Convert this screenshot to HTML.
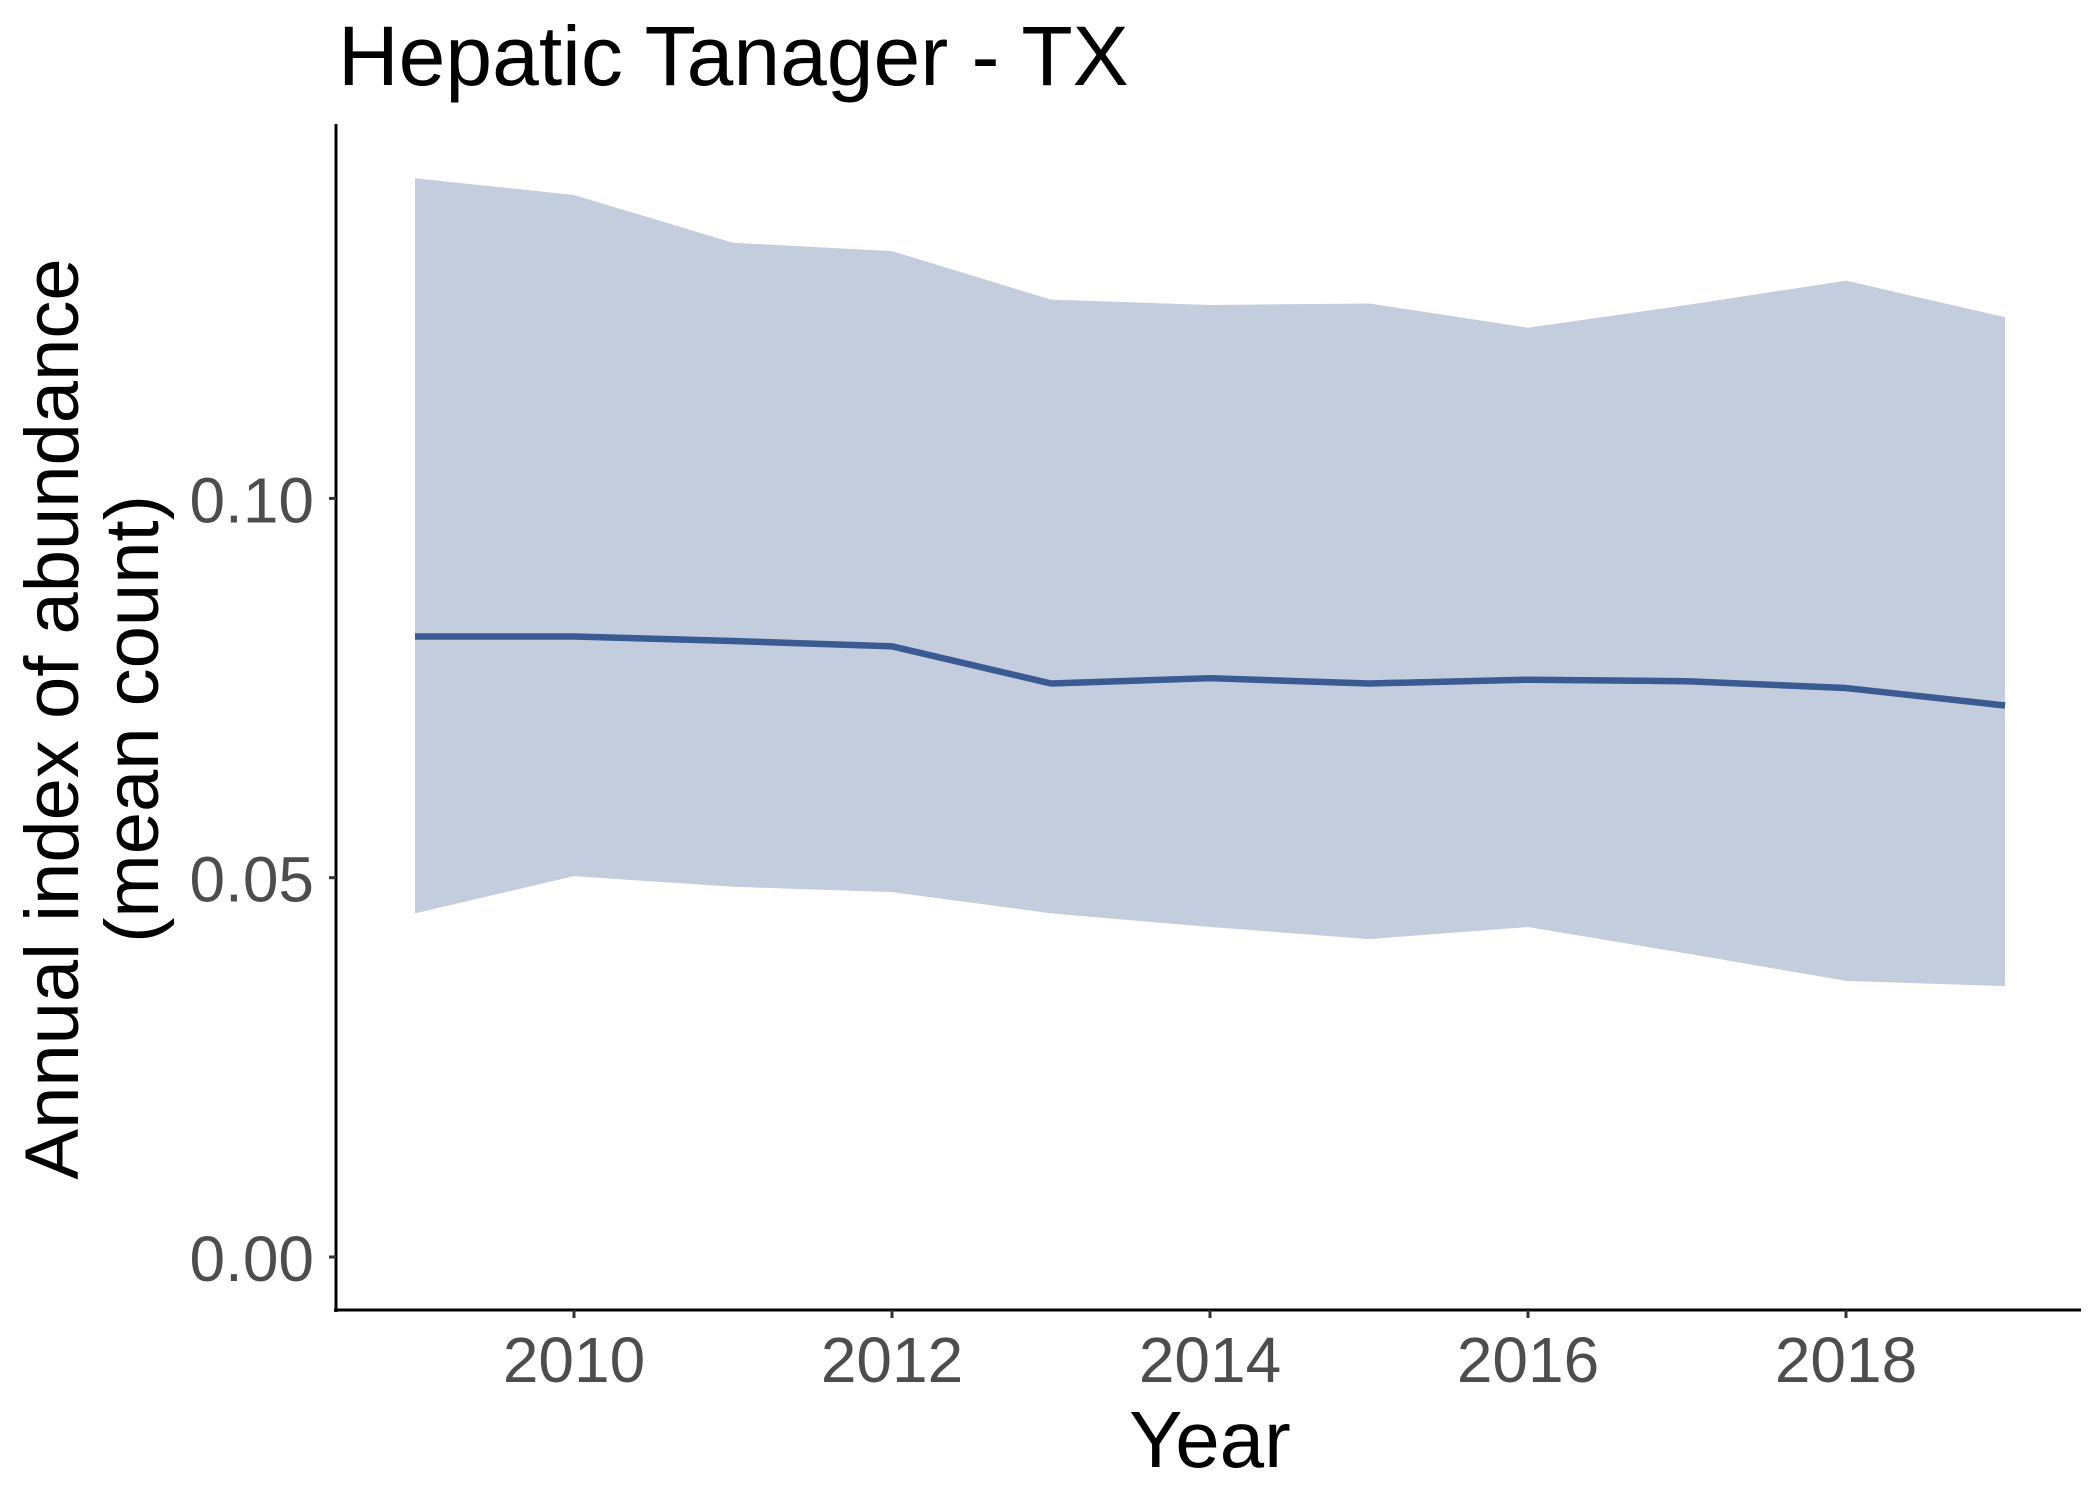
<!DOCTYPE html>
<html><head><meta charset="utf-8"><style>
html,body{margin:0;padding:0;background:#fff;}
svg{display:block;font-family:"Liberation Sans",Arial,sans-serif;}
</style></head><body>
<svg id="chart" width="2100" height="1500" viewBox="0 0 2100 1500">
<text x="338" y="85" font-size="84" fill="#000">Hepatic Tanager - TX</text>
<g id="plot"></g>
<line x1="336" y1="124" x2="336" y2="1312" stroke="#000" stroke-width="3"/>
<line x1="334" y1="1310" x2="2081" y2="1310" stroke="#000" stroke-width="3"/>
<g id="yticks"></g>
<g id="xticks"></g>
<text x="1210" y="1467" font-size="80" text-anchor="middle" fill="#000">Year</text>
<g transform="translate(0,719) rotate(-90)">
<text x="0" y="78" font-size="76" text-anchor="middle" fill="#000">Annual index of abundance</text>
<text x="0" y="158" font-size="76" text-anchor="middle" fill="#000">(mean count)</text>
</g>
</svg>
<script>
const years=[2009,2010,2011,2012,2013,2014,2015,2016,2017,2018,2019];
const upper=[0.1422,0.1400,0.1337,0.1326,0.1262,0.1255,0.1257,0.1225,0.1255,0.1287,0.1239];
const lower=[0.0453,0.0502,0.0488,0.0481,0.0453,0.0435,0.0419,0.0435,0.0400,0.0364,0.0357];
const index=[0.0818,0.0818,0.0812,0.0805,0.0756,0.0763,0.0756,0.0761,0.0759,0.0750,0.0727];
const yTicks=[0,0.05,0.10];
const yTickLabels=["0.00","0.05","0.10"];
const xTicks=[2010,2012,2014,2016,2018];
const NS="http://www.w3.org/2000/svg";
function xs(v){return 415+(v-2009)*159;}
function ys(v){return 1257-v*7586;}
function mk(tag,attrs,parent){const e=document.createElementNS(NS,tag);for(const k in attrs)e.setAttribute(k,attrs[k]);parent.appendChild(e);return e;}
const plot=document.getElementById('plot');
let d=years.map((y,i)=>(i?'L':'M')+xs(y)+','+ys(upper[i])).join(' ');
for(let i=years.length-1;i>=0;i--)d+=' L'+xs(years[i])+','+ys(lower[i]);
const rib=mk('path',{d:d+' Z',fill:'#c4cddd'},plot);


const ln=mk('path',{d:years.map((y,i)=>(i?'L':'M')+xs(y)+','+ys(index[i])).join(' '),fill:'none',stroke:'#3a5a92','stroke-width':6.5,'stroke-linejoin':'round'},plot);


const yg=document.getElementById('yticks');
yTicks.forEach((v,i)=>{
  const t=mk('line',{x1:329,x2:336,y1:ys(v),y2:ys(v),stroke:'#333','stroke-width':3},yg);
  
  
  const l=mk('text',{x:314,y:ys(v)+24,'font-size':64,'text-anchor':'end',fill:'#4d4d4d'},yg);
  l.textContent=yTickLabels[i];
  
  
});
const xg=document.getElementById('xticks');
xTicks.forEach(v=>{
  const t=mk('line',{x1:xs(v),x2:xs(v),y1:1310,y2:1318,stroke:'#333','stroke-width':3},xg);
  
  
  const l=mk('text',{x:xs(v),y:1382,'font-size':64,'text-anchor':'middle',fill:'#4d4d4d'},xg);
  l.textContent=String(v);
  
  
});
</script>
</body></html>
